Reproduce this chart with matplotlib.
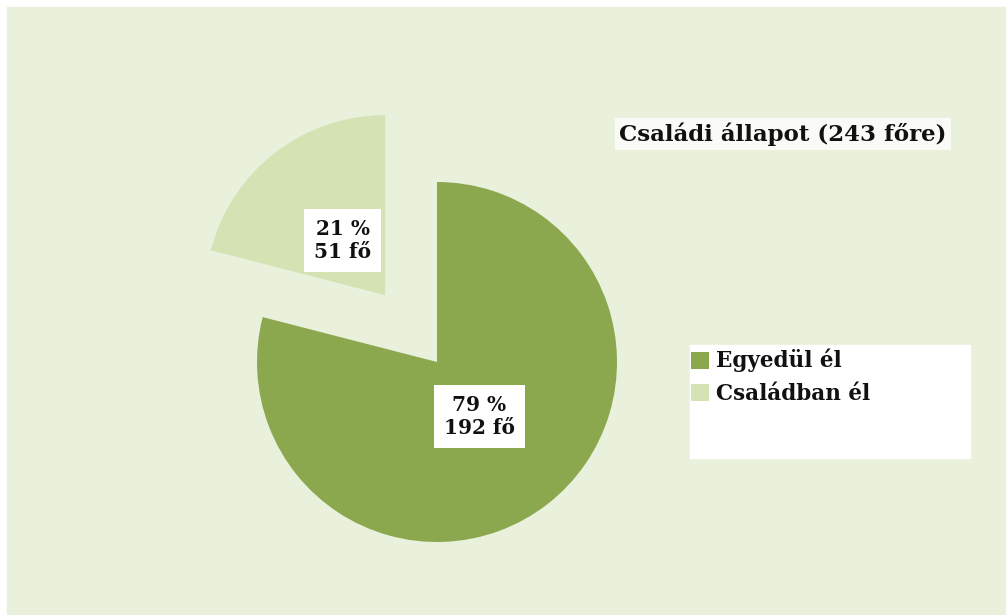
import matplotlib.pyplot as plt
from matplotlib.patches import Rectangle

# Adatok
kategoriak = ["Egyedül él", "Családban él"]
letszam = [192, 51]
osszes = sum(letszam)
cim = f"Családi állapot ({osszes} főre)"

# Színek
szinek = ["#8ca84f", "#d5e2b4"]
hatter = "#e9f0dc"

W, H = 1006, 615
fig = plt.figure(figsize=(W / 100, H / 100), dpi=100)
fig.patch.set_facecolor("white")
fig.add_artist(Rectangle((7 / W, 0), 1 - 7 / W, 1 - 7 / H, transform=fig.transFigure,
                         color=hatter, zorder=-1))

ax = fig.add_axes([0, 0, 1, 1])
ax.set_axis_off()

betu = dict(family="DejaVu Serif", weight="bold", color="#111111")

wedges, texts, autotexts = ax.pie(
    letszam, colors=szinek, startangle=90, counterclock=False,
    explode=[0, 0.47], pctdistance=0.385,
    autopct=lambda p: f"{p:.0f} %\n{round(p * osszes / 100)} fő",
    textprops=dict(size=14.5, **betu), wedgeprops=dict(linewidth=0),
)
for t in autotexts:
    t.set_multialignment("center")
    t.set_bbox(dict(boxstyle="square,pad=0.5", fc="white", ec="none"))

# kör középpontja és sugara pixelben
cx, cy, r = 437, 362, 180
ax.set_xlim(-cx / r, (W - cx) / r)
ax.set_ylim((cy - H) / r, cy / r)

# Cím
fig.text(783 / W, 1 - 134 / H, cim, ha="center", va="center", size=16.5,
         bbox=dict(boxstyle="square,pad=0.2", fc="white", ec="none", alpha=0.8), **betu)

# Jelmagyarázat fehér dobozban
fig.add_artist(Rectangle((690 / W, 1 - 458 / H), 280 / W, 113 / H,
                         transform=fig.transFigure, color="white", zorder=1))
leg = fig.legend(wedges, kategoriak, loc="upper left", bbox_to_anchor=(691 / W, 1 - 349 / H),
                 frameon=False, borderpad=0, borderaxespad=0, handlelength=0.84,
                 handleheight=0.84, handletextpad=0.3, labelspacing=0.5,
                 prop=dict(family="DejaVu Serif", weight="bold", size=15.5))
for t in leg.get_texts():
    t.set_color("#111111")
leg.set_zorder(2)

fig.savefig("out.png", dpi=100)
